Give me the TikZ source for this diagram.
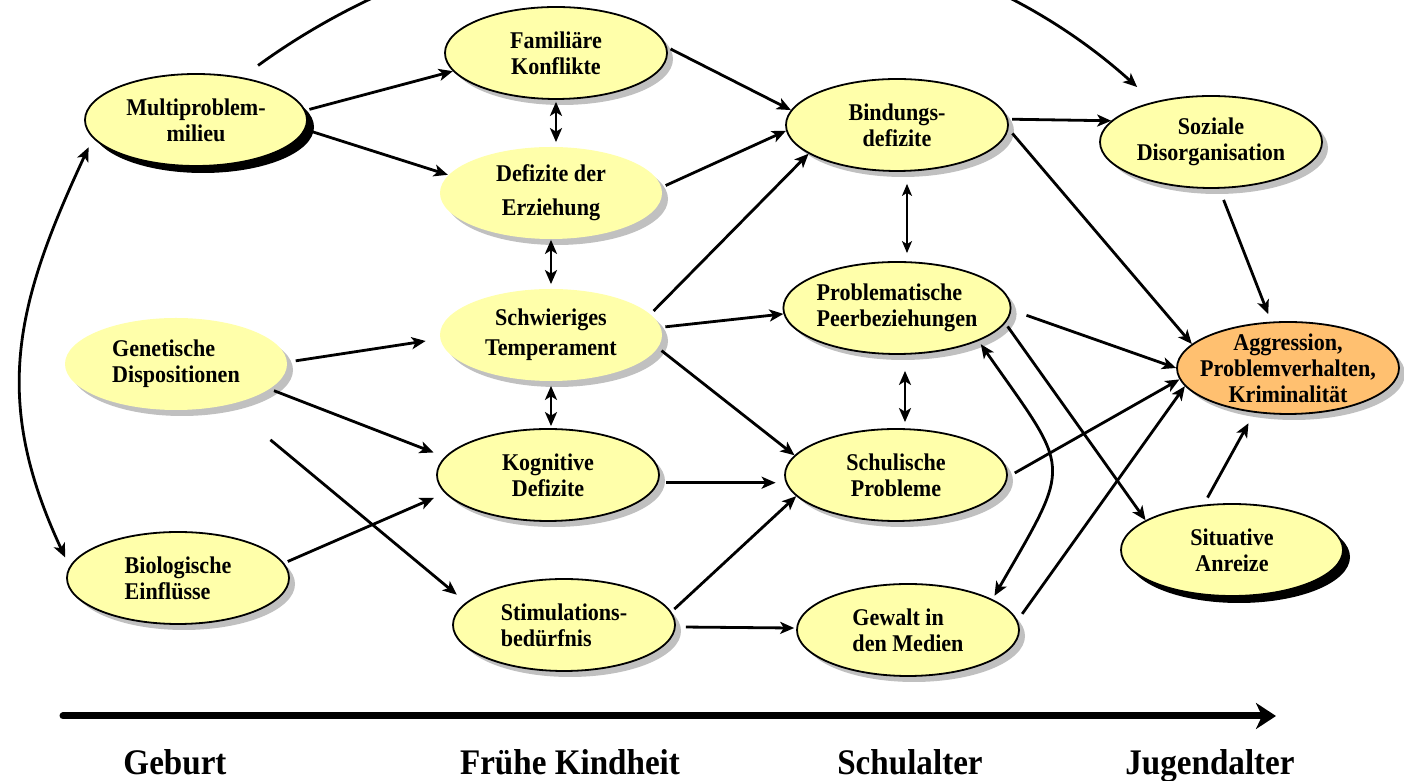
\documentclass[tikz,border=0pt]{standalone}
\usepackage{fontspec}
\setmainfont{Liberation Serif}[FakeStretch=0.92]
\usetikzlibrary{arrows.meta, shapes.geometric, shadows}
\definecolor{ellfill}{RGB}{255,255,170}
\definecolor{aggrfill}{RGB}{255,192,112}
\definecolor{shadegray}{RGB}{192,192,192}

\begin{document}
\begin{tikzpicture}[
                x=0.5pt, y=0.5pt,
                gshadow/.style={drop shadow={shadow xshift=3pt, shadow yshift=-3pt, fill=shadegray, opacity=1}},
                kshadow/.style={drop shadow={shadow xshift=3.5pt, shadow yshift=-3.5pt, fill=black, opacity=1}},
                ell/.style={ellipse, draw, line width=0.9pt, fill=ellfill, minimum width=111pt, minimum height=46pt, inner sep=0pt, align=center, font=\bfseries\fontsize{12}{13}\selectfont},
                noline/.style={draw=none},
                arr/.style={-{Stealth[length=7pt, width=6pt, inset=1.8pt]}, line width=1.4pt, shorten <=2pt},
                darr/.style={{Stealth[length=7pt, width=6pt, inset=1.8pt]}-{Stealth[length=7pt, width=6pt, inset=1.8pt]}, line width=1.4pt},
                tarr/.style={{Stealth[length=6pt, width=5pt, inset=1.5pt]}-{Stealth[length=6pt, width=5pt, inset=1.5pt]}, line width=0.9pt},
                age/.style={anchor=base, font=\bfseries\fontsize{18}{22}\selectfont}
            ]
            \useasboundingbox (0,0) rectangle (1404,781);
            \clip (0,0) rectangle (1404,781);

            \node[ell, kshadow]          (multi) at (196,661) {Multiproblem-\\milieu};
            \node[ell, gshadow]          (fam)   at (556,728) {Familiäre\\Konflikte};
            \node[ell, gshadow, noline]  (erz)   at (551,588) {Defizite der\\[4pt]Erziehung};
            \node[ell, gshadow]          (bind)  at (897,656) {Bindungs-\\defizite};
            \node[ell, gshadow]          (soz)   at (1211,639) {Soziale\\Disorganisation};
            \node[ell, gshadow, noline, align=left] (gen) at (176,417) {Genetische\\Dispositionen};
            \node[ell, gshadow, noline]  (temp)  at (551,446) {Schwieriges\\[2pt]Temperament};
            \node[ell, gshadow, align=left] (peer) at (897,473) {Problematische\\Peerbeziehungen};
            \node[ell, gshadow, fill=aggrfill, inner xsep=-7pt, inner ysep=-3pt] (aggr) at (1288,413) {Aggression,\\Problemverhalten,\\Kriminalität};
            \node[ell, gshadow]          (kog)   at (548,306) {Kognitive\\Defizite};
            \node[ell, gshadow]          (schul) at (896,306) {Schulische\\Probleme};
            \node[ell, kshadow]          (sit)   at (1232,231) {Situative\\Anreize};
            \node[ell, gshadow, align=left] (bio) at (178,203) {Biologische\\Einflüsse};
            \node[ell, gshadow, align=left] (stim) at (564,156) {Stimulations-\\bedürfnis};
            \node[ell, gshadow, align=left] (gew) at (908,151) {Gewalt in\\den Medien};

            \draw[arr] (multi.5) -- (fam.190);
            \draw[arr] (multi.-5) -- (erz.170);
            \draw[darr, shorten <=1pt, shorten >=2pt] (fam.south) -- (fam.south |- erz.north);
            \draw[darr, shorten >=2pt] (erz.south) -- (erz.south |- temp.north);
            \draw[darr, shorten <=2pt, shorten >=1pt] (temp.south) -- (temp.south |- kog.north);
            \draw[arr] (fam.3) -- (bind.172);
            \draw[arr] (erz.3) -- (bind.183);
            \draw[arr] (temp.12) -- (bind.198);
            \draw[arr] (temp.4) -- (peer.183);
            \draw[arr] (temp.-7) -- (schul.169);
            \draw[arr, shorten <=4pt, shorten >=7pt] (gen.1) -- (temp.182);
            \draw[arr, shorten >=6pt] (gen.-15) -- (kog.170);
            \draw[arr, shorten <=27pt, shorten >=6pt] (gen.-38) -- (stim.167);
            \draw[arr, shorten >=6pt] (bio.8) -- (kog.190);
            \draw[arr, shorten <=4pt, shorten >=5pt] (kog.-4) -- (schul.184);
            \draw[arr] (stim.7) -- (schul.192);
            \draw[arr, shorten <=5pt, shorten >=1pt] (stim.-1) -- (gew.179);
            \draw[tarr, shorten <=6pt, shorten >=4pt] ([xshift=5pt]bind.south) -- ([xshift=5pt]bind.south |- peer.north);
            \draw[darr, shorten <=8pt, shorten >=3pt] ([xshift=4pt]peer.south) -- ([xshift=4pt]peer.south |- schul.north);
            \draw[arr] (bind.3) -- (soz.168);
            \draw[arr, shorten <=3pt] (bind.-2) -- (aggr.166);
            \draw[arr, shorten <=6pt, shorten >=4pt] (soz.-80) -- (aggr.110);
            \draw[arr, shorten <=8pt] (peer.-1) -- (aggr.180);
            \draw[arr] (peer.-8) -- (sit.161);
            \draw[arr, shorten <=4pt] (schul.-1) -- (aggr.186);
            \draw[arr, shorten <=4pt] (gew.5) -- (aggr.190);
            \draw[arr, shorten <=4pt, shorten >=6pt] (sit.122) -- (aggr.233);
            \draw[darr, shorten <=2pt, shorten >=2pt] (peer.-22) to[out=-55, in=60, looseness=1.6] (gew.20);
            \draw[darr, shorten <=5pt, shorten >=5pt] (multi.190) to[out=-115, in=115, looseness=1.1] (bio.174);
            \draw[arr, shorten <=10pt, shorten >=11pt] (multi.43) to[out=36, in=138, looseness=0.95] (soz.145);

            \coordinate (t0) at (63,65);
            \coordinate (t1) at (1276,65);
            \draw[line width=3.5pt, line cap=round, -{Stealth[length=10pt, width=13pt, inset=3pt]}] (t0) -- (t1);

            \node[age] (geb)  at (175,6)  {Geburt};
            \node[age] (kind) at (570,6)  {Frühe Kindheit};
            \node[age] (schu) at (910,6)  {Schulalter};
            \node[age] (jug)  at (1210,6) {Jugendalter};
        \end{tikzpicture}
\end{document}
